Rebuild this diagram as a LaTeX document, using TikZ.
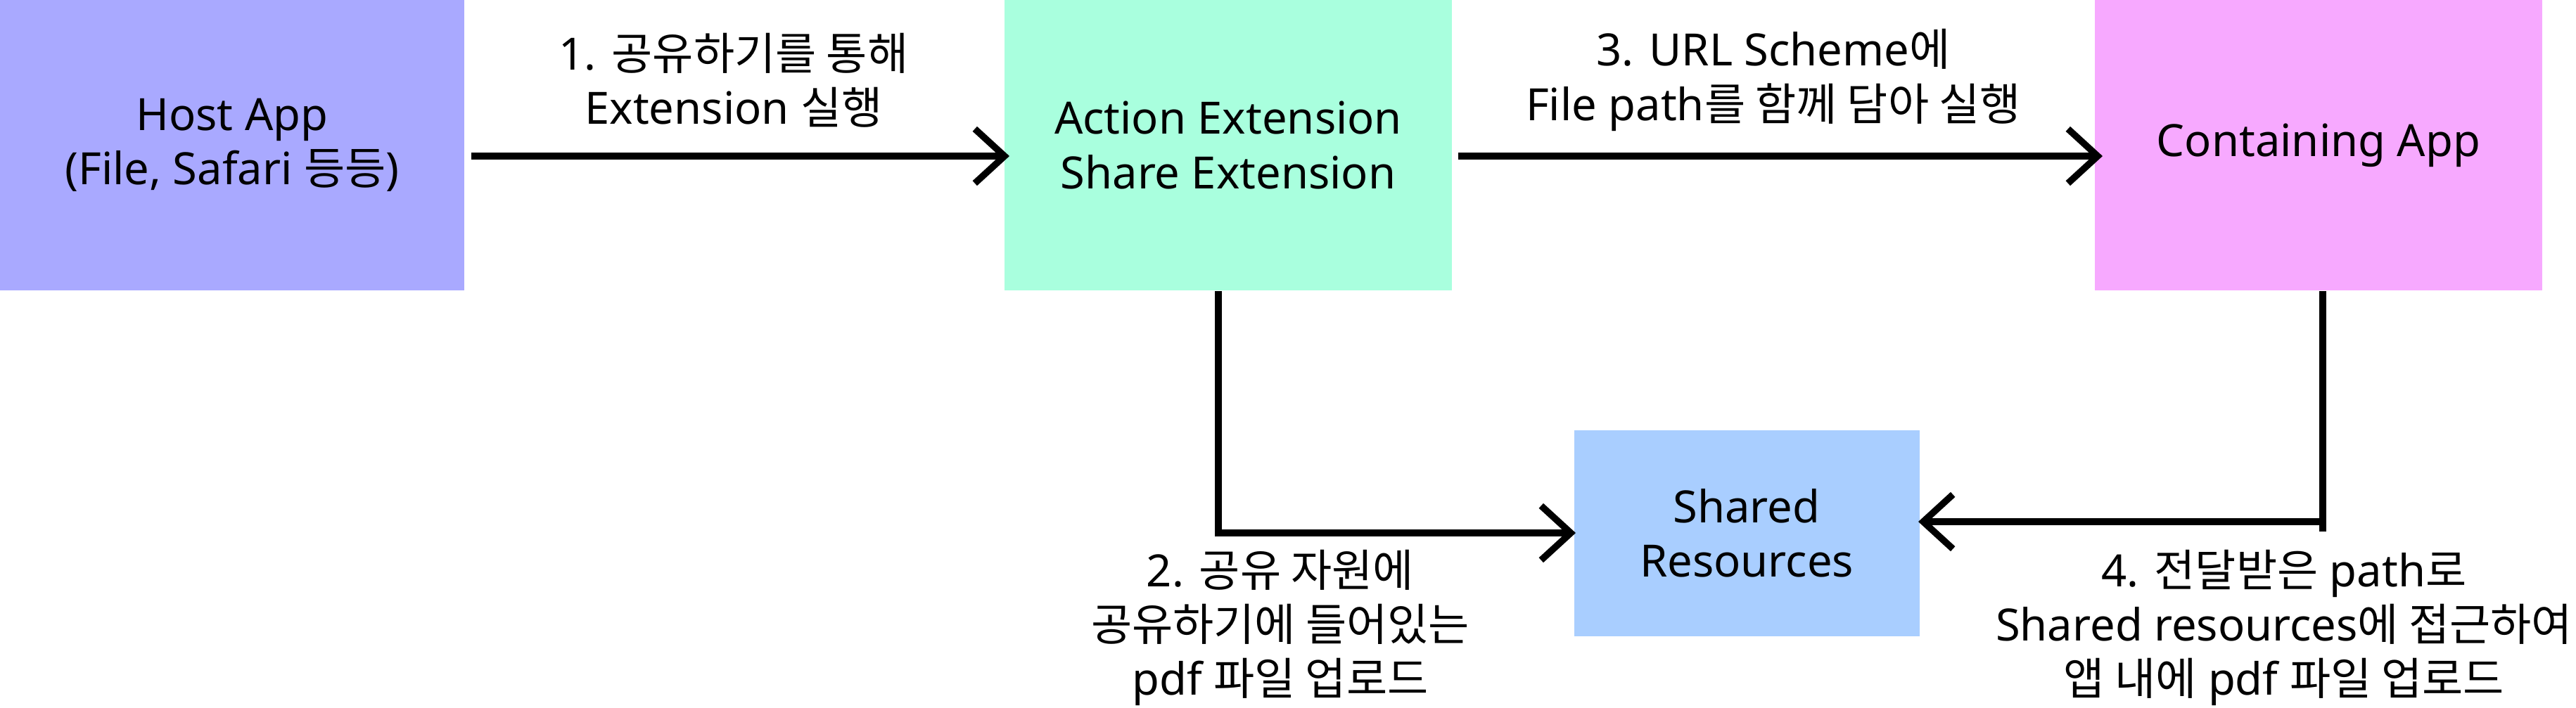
\documentclass[tikz,border=0pt]{standalone}
\usepackage{fontspec}
\setmainfont{Noto Sans}
\newfontfamily\kofont{Noto Sans CJK KR}
\newcommand\ko[1]{{\kofont #1}}
\usetikzlibrary{arrows.meta}
\definecolor{hostc}{RGB}{169,169,255}
\definecolor{actc}{RGB}{169,255,222}
\definecolor{contc}{RGB}{247,169,255}
\definecolor{shrc}{RGB}{169,206,255}
\begin{document}
\begin{tikzpicture}[
	box/.style={fill=#1, inner sep=0pt, align=center, font=\fontsize{18}{22}\selectfont},
	lbl/.style={align=center, font=\fontsize{18}{22}\selectfont},
	arr/.style={line width=2.7pt, -{Straight Barb[length=12pt,width=22pt]}}]
		\useasboundingbox (0,0) rectangle (36.62,10.06);
		\node[box=hostc, minimum width=6.6cm, minimum height=4.13cm] (Host) at (3.30,7.995) {Host App\\(File, Safari \ko{등등})};
		\node[box=actc, minimum width=6.36cm, minimum height=4.13cm] (Act) at (17.46,7.995) {Action Extension\\Share Extension};
		\node[box=contc, minimum width=6.36cm, minimum height=4.13cm] (Cont) at (32.96,7.995) {Containing App};
		\node[box=shrc, minimum width=4.91cm, minimum height=2.93cm] (Shr) at (24.83,2.475) {Shared\\Resources};
		\coordinate (A) at (6.70,7.84);
		\coordinate (B) at (14.35,7.84);
		\coordinate (C) at (20.73,7.84);
		\coordinate (D) at (29.89,7.84);
		\coordinate (E) at (17.32,5.92);
		\coordinate (F) at (22.40,2.48);
		\coordinate (G) at (33.02,5.92);
		\coordinate (G2) at (33.02,2.50);
		\coordinate (H) at (27.27,2.64);
		\draw[arr] (A)--(B);
		\draw[arr] (C)--(D);
		\draw[arr] (E) |- (F);
		\draw[line width=2.7pt] (G)--(G2);
		\draw[arr] (G) |- (H);
		\node[lbl] (L1) at (10.43,8.92) {1. \ko{공유하기를 통해}\\Extension \ko{실행}};
		\node[lbl] (L2) at (18.20,1.13) {2. \ko{공유 자원에}\\\ko{공유하기에 들어있는}\\pdf \ko{파일 업로드}};
		\node[lbl] (L3) at (25.21,8.92) {3. URL Scheme\ko{에}\\File path\ko{를 함께 담아 실행}};
		\node[lbl] (L4) at (32.47,1.13) {4. \ko{전달받은} path\ko{로}\\Shared resources\ko{에 접근하여}\\\ko{앱 내에} pdf \ko{파일 업로드}};
	\end{tikzpicture}
\end{document}
